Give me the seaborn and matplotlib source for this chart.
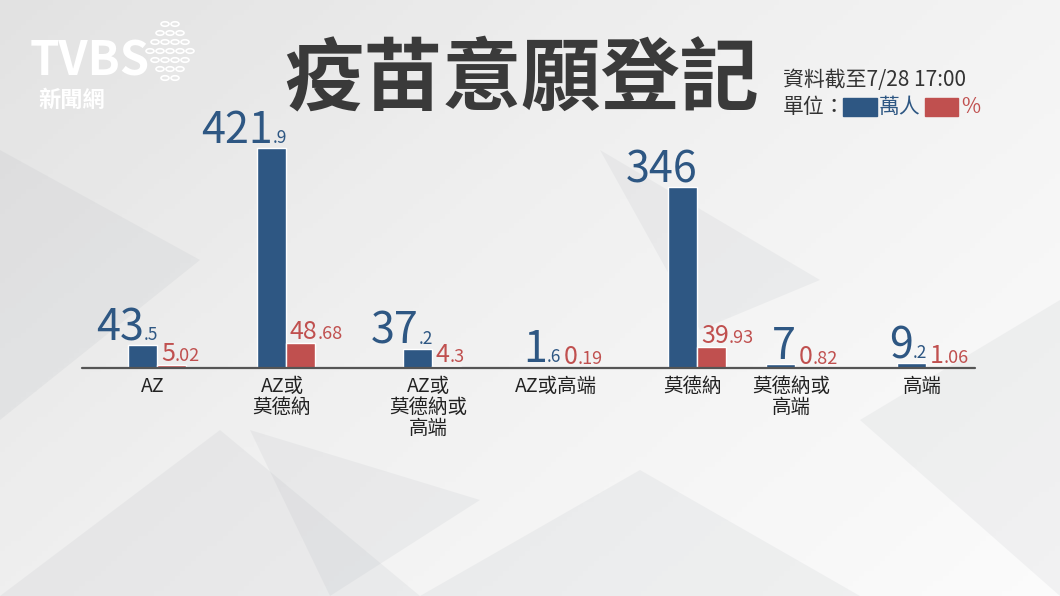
import numpy as np
import pandas as pd
import seaborn as sns
import matplotlib.pyplot as plt
from matplotlib.patches import Rectangle

# data
categories = ['AZ', 'AZ或\n莫德納', 'AZ或\n莫德納或\n高端', 'AZ或高端', '莫德納', '莫德納或\n高端', '高端']
people_10k = [43.5, 421.9, 37.2, 1.6, 346, 7, 9.2]
people_txt = [('43', '.5'), ('421', '.9'), ('37', '.2'), ('1', '.6'), ('346', ''), ('7', ''), ('9', '.2')]
pct = [5.02, 48.68, 4.3, 0.19, 39.93, 0.82, 1.06]
pct_txt = [('5', '.02'), ('48', '.68'), ('4', '.3'), ('0', '.19'), ('39', '.93'), ('0', '.82'), ('1', '.06')]

# layout (pixel x of each group's centre)
xpos = [157, 286, 432, 560, 697, 795, 926]

BLUE = '#2e5783'
RED = '#c0504f'
W, H = 1060, 596
FONT = ['Noto Sans CJK TC', 'DejaVu Sans']

sns.set_theme(style='white')
plt.rcParams['font.family'] = FONT

fig = plt.figure(figsize=(W / 100, H / 100), dpi=100)

# background
bg = fig.add_axes([0, 0, 1, 1])
gx, gy = np.meshgrid(np.linspace(0, 1, 200), np.linspace(0, 1, 120))
grad = 0.80 + 0.17 * (0.6 * gx + 0.4 * gy)
bg.imshow(grad, cmap='Greys_r', vmin=0, vmax=1, extent=[0, W, H, 0], aspect='auto')
tris = [[(0, 596), (220, 430), (420, 596)], [(420, 596), (640, 470), (860, 596)],
        [(860, 420), (1060, 300), (1060, 596)], [(0, 150), (200, 260), (0, 420)],
        [(600, 150), (820, 280), (700, 330)], [(250, 430), (480, 500), (330, 596)]]
for t in tris:
    bg.add_patch(plt.Polygon(t, color='#9aa0a8', alpha=0.10, lw=0))
bg.set_xlim(0, W)
bg.set_ylim(H, 0)
bg.axis('off')

# bar axes: baseline at y=368px, 0.522 px per unit
base = 368
scale = 0.522
ax_h = 260
ax = fig.add_axes([0, (H - base) / H, 1, ax_h / H])
ax.patch.set_alpha(0)

df = pd.DataFrame({
    'x': xpos * 2,
    'value': people_10k + pct,
    'series': ['萬人'] * len(xpos) + ['%'] * len(xpos),
})
sns.barplot(data=df, x='x', y='value', hue='series', native_scale=True,
            palette=[BLUE, RED], width=58 / 98, ax=ax, legend=False, saturation=1)
ax.set_xlim(0, W)
ax.set_ylim(0, ax_h / scale)
ax.axis('off')
fig.add_artist(plt.Line2D([82 / W, 975 / W], [(H - base) / H] * 2, color='#555555', lw=1.6))

fig.canvas.draw()
rend = fig.canvas.get_renderer()


def px(x, y):
    return x / W, (H - y) / H


for i, x in enumerate(xpos):
    # blue label, right-aligned at group centre
    top = base - people_10k[i] * scale - 5
    big, small = people_txt[i]
    xr = x + 1
    if small:
        t = fig.text(*px(xr, top), small, fontsize=12.5, color=BLUE, ha='right', va='baseline', family=FONT)
        xr -= t.get_window_extent(rend).width
    fig.text(*px(xr, top), big, fontsize=31, color=BLUE, ha='right', va='baseline', family=FONT)
    # red label, left-aligned after the blue bar
    top = base - pct[i] * scale - 4
    big, small = pct_txt[i]
    t = fig.text(*px(x + 4, top), big, fontsize=18, color=RED, ha='left', va='baseline', family=FONT)
    xl = x + 4 + t.get_window_extent(rend).width
    fig.text(*px(xl, top), small, fontsize=13, color=RED, ha='left', va='baseline', family=FONT)
    # category label
    fig.text(*px(x - 4, 376), categories[i], fontsize=14, color='#222222', ha='center', va='top',
             linespacing=1.0, family=FONT)

# title
fig.text(*px(522, 80), '疫苗意願登記', fontsize=57, fontweight='bold', color='#3a3a3a',
         ha='center', va='center', family=FONT)

# source and legend
fig.text(*px(783, 80), '資料截至7/28 17:00', fontsize=15, color='#333333', ha='left', va='center', family=FONT)
fig.text(*px(783, 107), '單位：', fontsize=15, color='#333333', ha='left', va='center', family=FONT)
fig.add_artist(Rectangle(px(843, 116), 34 / W, 18 / H, color=BLUE))
fig.text(*px(879, 107), '萬人', fontsize=15, color=BLUE, ha='left', va='center', family=FONT)
fig.add_artist(Rectangle(px(925, 116), 33 / W, 18 / H, color=RED))
fig.text(*px(961, 107), '%', fontsize=15, color=RED, ha='left', va='center', family=FONT)

# logo
fig.text(*px(30, 62), 'TVBS', fontsize=34, fontweight='bold', fontstyle='italic', color='white',
         ha='left', va='center', family=FONT)
fig.text(*px(38, 100), '新聞網', fontsize=16, fontweight='bold', color='white', ha='left', va='center', family=FONT)
for r in range(7):
    n = 4 - abs(r - 3)
    for c in range(n + 1):
        fig.add_artist(plt.Circle(px(150 + 10 * c + 5 * abs(r - 3), 24 + 9 * r), 4 / W,
                                  fill=False, ec='white', lw=1.2))

fig.savefig('out.png', dpi=100)
